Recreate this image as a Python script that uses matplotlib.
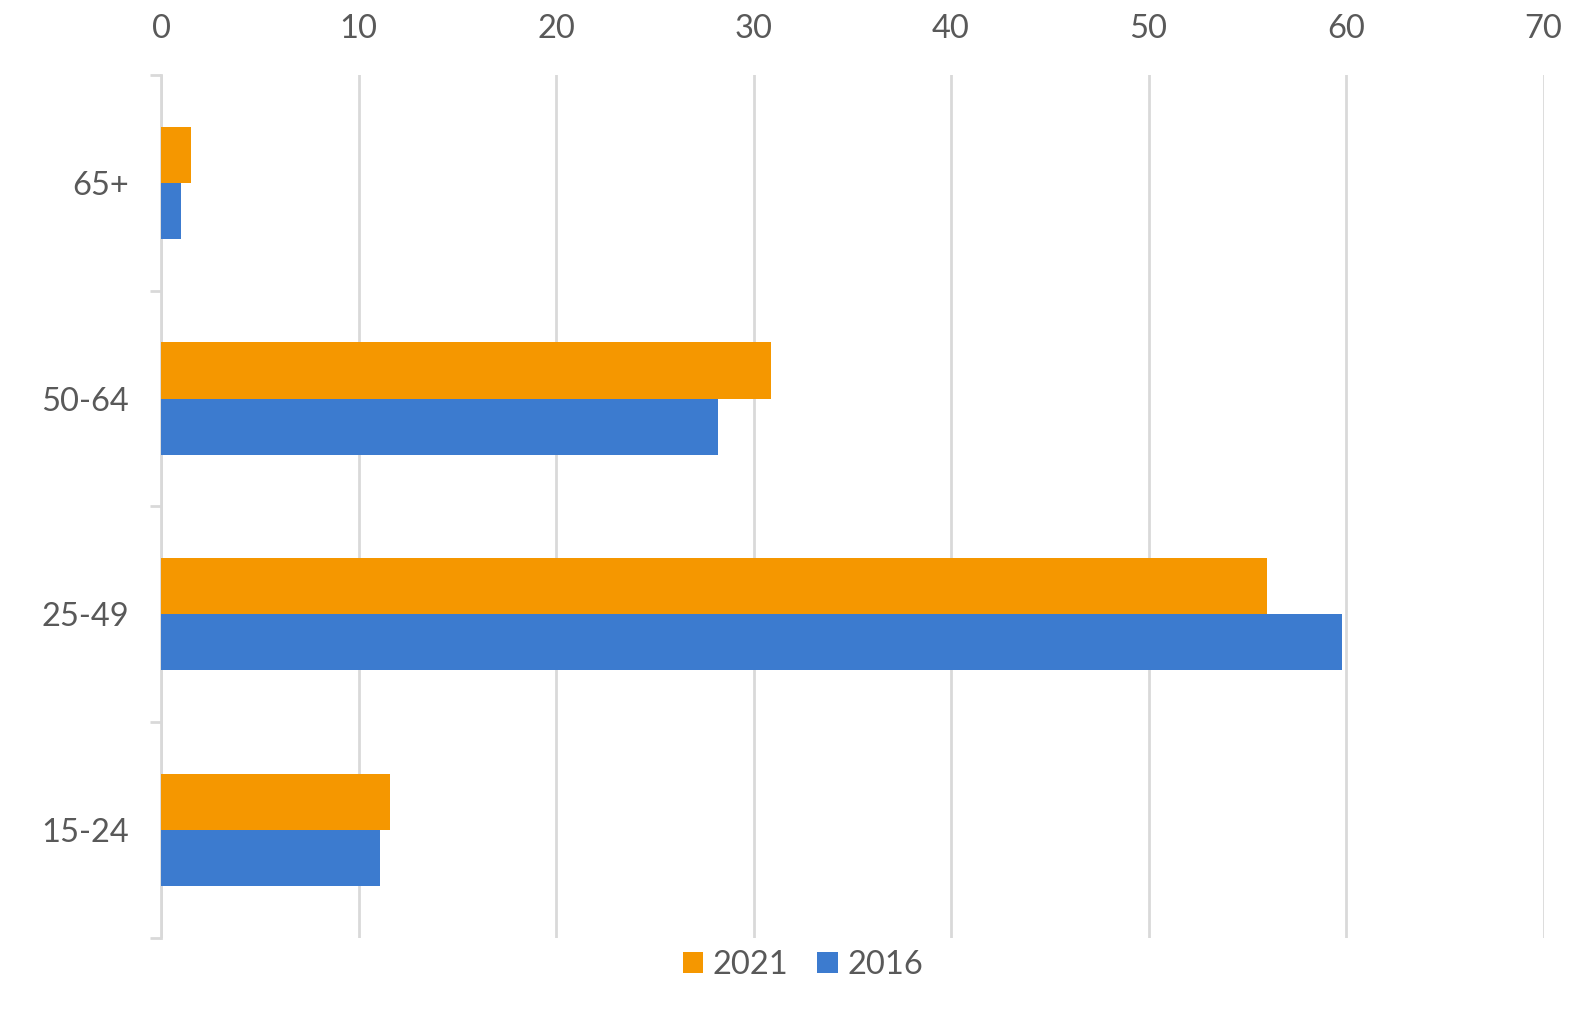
import matplotlib.pyplot as plt
from matplotlib.ticker import FixedLocator
import numpy as np

plt.rcParams['font.family'] = ['Lato', 'DejaVu Sans']

groups = ['15-24', '25-49', '50-64', '65+']
vals_2021 = [11.6, 56.0, 30.9, 1.5]
vals_2016 = [11.1, 59.8, 28.2, 1.0]

orange = '#F59700'
blue = '#3C7BCF'
grid_c = '#D9D9D9'
txt_c = '#595959'

fig = plt.figure(figsize=(15.9, 10.28), dpi=100)
ax = fig.add_axes([0.1013, 0.0878, 0.8695, 0.8392])

y = np.arange(len(groups))
h = 0.26
ax.barh(y + h / 2, vals_2021, height=h, color=orange, label='2021', zorder=3)
ax.barh(y - h / 2, vals_2016, height=h, color=blue, label='2016', zorder=3)

ax.set_xlim(0, 70)
ax.set_ylim(-0.5, len(groups) - 0.5)
ax.set_xticks(range(0, 71, 10))
ax.xaxis.tick_top()
ax.tick_params(axis='x', length=0, pad=22, labelsize=23.5, labelcolor=txt_c)
ax.grid(axis='x', color=grid_c, linewidth=2, zorder=0)

ax.set_yticks(y)
ax.set_yticklabels(groups)
ax.yaxis.set_minor_locator(FixedLocator(np.arange(-0.5, len(groups), 1)))
ax.tick_params(axis='y', which='major', length=0, pad=23, labelsize=23.5, labelcolor=txt_c)
ax.tick_params(axis='y', which='minor', length=8, width=2, color=grid_c)

for s in ['top', 'right', 'bottom']:
    ax.spines[s].set_visible(False)
ax.spines['left'].set_color(grid_c)
ax.spines['left'].set_linewidth(2)

fig.legend(loc='center', bbox_to_anchor=(0.505, 0.061), ncol=2, frameon=False,
           fontsize=23.5, labelcolor=txt_c, handlelength=0.62, handleheight=0.62,
           handletextpad=0.3, columnspacing=0.88)

fig.savefig('out.png', dpi=100)
